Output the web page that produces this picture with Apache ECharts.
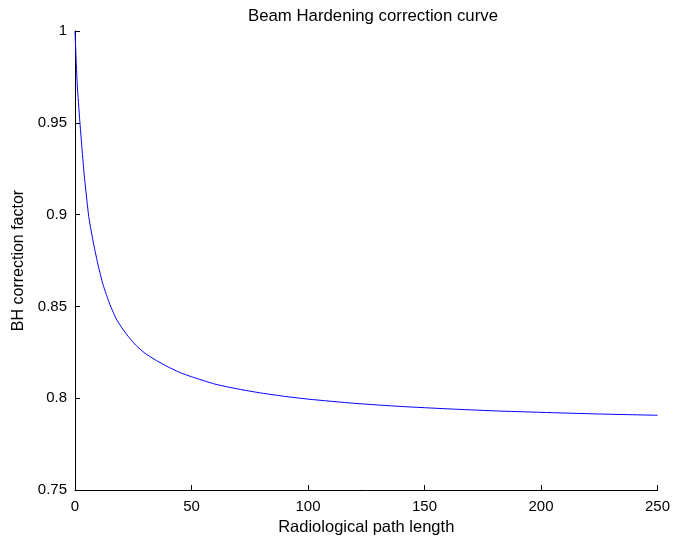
<!DOCTYPE html>
<html>
<head>
<meta charset="utf-8">
<script src="https://cdn.jsdelivr.net/npm/echarts@6/dist/echarts.min.js"></script>
<style>html,body{margin:0;padding:0;background:#fff}#c{width:673px;height:541px}</style>
</head>
<body>
<div id="c"></div>
<script>
var titleText = 'Beam Hardening correction curve';
var xName = 'Radiological path length';
var yName = 'BH correction factor';
var pathLength = [0, 0.5, 1, 2, 3, 4, 5, 6, 8, 10, 12, 15, 18, 22, 26, 30, 35, 40, 45, 50, 60, 70, 80, 90, 100, 120, 140, 160, 180, 200, 225, 250];
var bhFactor = [1, 0.984, 0.970, 0.952, 0.936, 0.921, 0.909, 0.898, 0.884, 0.872, 0.862, 0.851, 0.8425, 0.835, 0.829, 0.8245, 0.8205, 0.8170, 0.8140, 0.8117, 0.8077, 0.8050, 0.8028, 0.8010, 0.7995, 0.7972, 0.7955, 0.7942, 0.7931, 0.7923, 0.7914, 0.7907];

var pts = pathLength.map(function (x, i) { return [x, bhFactor[i]]; });
var font = 'Liberation Sans, Arial, Helvetica, sans-serif';
var chart = echarts.init(document.getElementById('c'), null, {renderer: 'canvas'});
chart.setOption({
  animation: false,
  backgroundColor: '#fff',
  title: {
    text: titleText, left: 243, top: 3,
    textStyle: {fontFamily: font, fontSize: 16.8, fontWeight: 'normal', color: '#000'}
  },
  grid: {left: 75, right: 13, top: 31, bottom: 49, containLabel: false},
  xAxis: {
    type: 'value', min: 0, max: 250, interval: 50,
    name: xName, nameLocation: 'middle', nameGap: 29,
    nameTextStyle: {fontFamily: font, fontSize: 16.5, color: '#000'},
    axisLine: {show: true, lineStyle: {color: '#000', width: 1}},
    axisTick: {show: true, inside: true, length: 5, lineStyle: {color: '#000'}},
    axisLabel: {fontFamily: font, fontSize: 15, color: '#000', margin: 9},
    splitLine: {show: false}
  },
  yAxis: {
    type: 'value', min: 0.75, max: 1, interval: 0.05,
    name: yName, nameLocation: 'middle', nameGap: 48,
    nameTextStyle: {fontFamily: font, fontSize: 16, color: '#000'},
    axisLine: {show: true, lineStyle: {color: '#000', width: 1}},
    axisTick: {show: true, inside: true, length: 5, lineStyle: {color: '#000'}},
    axisLabel: {fontFamily: font, fontSize: 15, color: '#000', margin: 8},
    splitLine: {show: false}
  },
  series: [{
    type: 'line', data: pts, showSymbol: false, smooth: 0.2,
    lineStyle: {color: '#0000ff', width: 1}, itemStyle: {color: '#0000ff'}
  }]
});
</script>
</body>
</html>
